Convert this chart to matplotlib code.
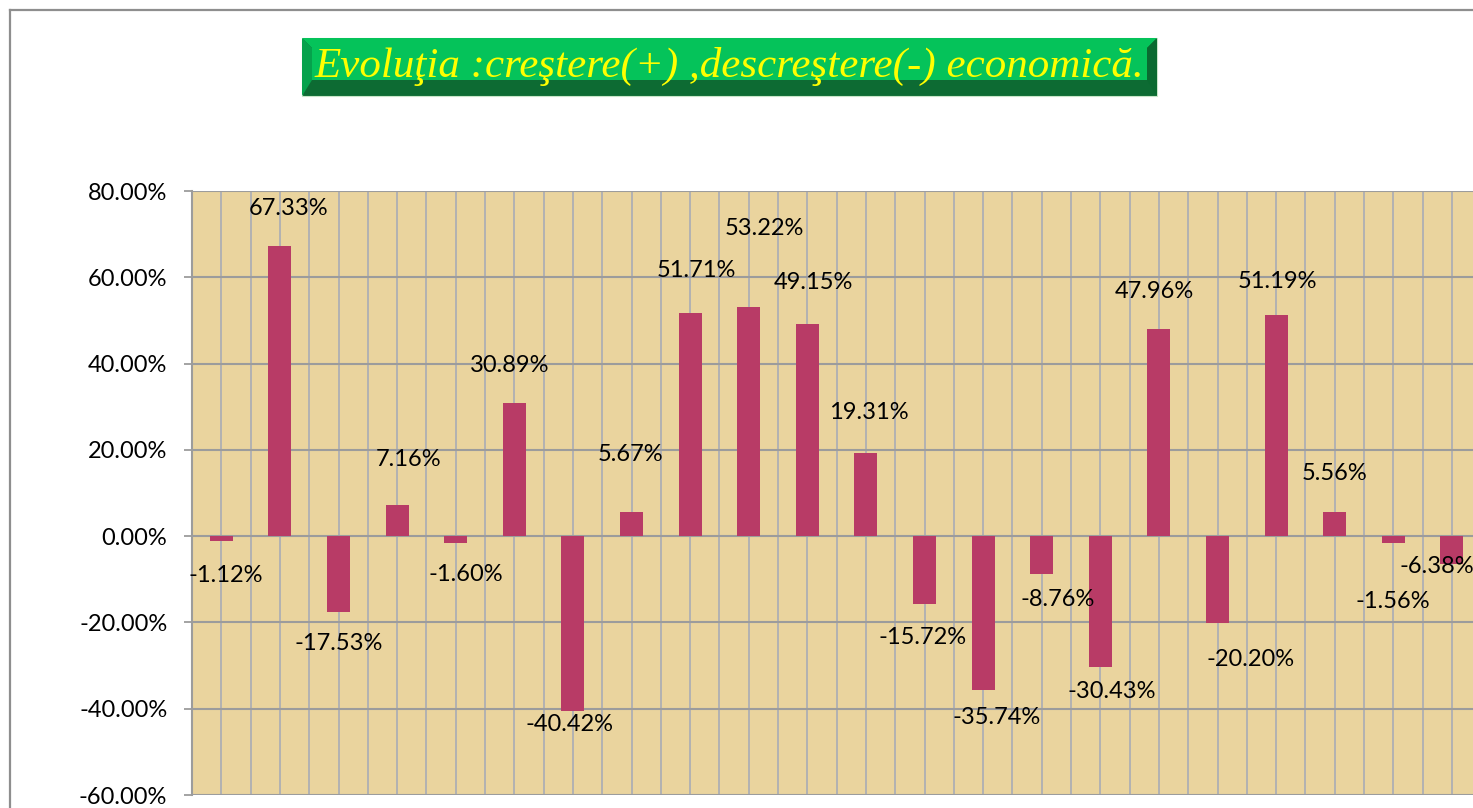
import matplotlib
matplotlib.use("Agg")
import matplotlib.pyplot as plt
from matplotlib.patches import Polygon
from matplotlib.lines import Line2D
import numpy as np

# ---- data ----
values = [-1.12, 67.33, -17.53, 7.16, -1.60, 30.89, -40.42, 5.67, 51.71, 53.22,
          49.15, 19.31, -15.72, -35.74, -8.76, -30.43, 47.96, -20.20, 51.19, 5.56,
          -1.56, -6.38]
labels = [f"{v:.2f}%" for v in values]
y_ticks = [-60, -40, -20, 0, 20, 40, 60, 80]
y_tick_labels = [f"{t:.2f}%" for t in y_ticks]
title = "Evoluţia :creştere(+) ,descreştere(-) economică."

# ---- label offsets (pixels, relative to bar end) ----
label_dx = [4, 9, 0, 11, 10, -5, -3, -1, 6, 16, 6, 3, -2, 14, 16, 11, -5, 33, 1, 0, 0, -15]
label_dy = [-35, 37, -32, 46, -31, 37, -14, 57, 43, 78, 42, 40, -34, -27, -26, -24, 38, -36, 34, 39, -59, -3]

W, H = 1473, 808
DPI = 100
fig = plt.figure(figsize=(W / DPI, H / DPI), dpi=DPI)
fig.patch.set_facecolor("white")

FONT = ["Lato", "DejaVu Sans"]

def fx(px):
    return px / W

def fy(py):
    return 1 - py / H

# axes area: left 192, top 191, bottom 795, right at figure edge
ax_left, ax_top, ax_bottom = 192, 191, 795
ax = fig.add_axes([fx(ax_left), fy(ax_bottom), 1 - fx(ax_left), (ax_bottom - ax_top) / H])
ax.set_facecolor("#EAD49E")

cat_px = 58.6
x = np.arange(len(values))
ax.set_xlim(-0.5, -0.5 + (W - ax_left) / cat_px)
ax.set_ylim(-60, 80)

# gridlines
for g in np.arange(-0.5, len(values) + 0.5, 0.5):
    ax.axvline(g, color="#B2B2B2", lw=1.4, zorder=1)
for t in y_ticks:
    ax.axhline(t, color="#9C9C9C", lw=1.5, zorder=1.5)

ax.bar(x, values, width=0.39, color="#B83B66", zorder=3)

for i, (v, lab) in enumerate(zip(values, labels)):
    ax.annotate(lab, xy=(i, v), xytext=(label_dx[i], label_dy[i]),
                textcoords="offset pixels", ha="center", va="center",
                fontsize=17, family=FONT, color="black", zorder=4)

ax.set_yticks(y_ticks)
ax.set_yticklabels(y_tick_labels, family=FONT, fontsize=17)
ax.tick_params(axis="y", length=5.8, width=1.3, color="#9C9C9C", pad=12)
ax.set_xticks([])
for s in ["top", "right", "bottom"]:
    ax.spines[s].set_visible(False)
ax.spines["left"].set_color("#9C9C9C")
ax.spines["left"].set_linewidth(1.5)

# outer chart border (top and left)
fig.add_artist(Line2D([fx(10), 1.0], [fy(10), fy(10)], color="#8E8E8E", lw=1.6))
fig.add_artist(Line2D([fx(10), fx(10)], [fy(10), 0], color="#8E8E8E", lw=1.6))

# title box
bx0, bx1, by0, by1 = 302, 1157, 38, 96
split = 80
bev = 10
fig.add_artist(Polygon([(fx(bx0), fy(by0)), (fx(bx1), fy(by0)), (fx(bx1), fy(by1)), (fx(bx0), fy(by1))],
                       closed=True, facecolor="#0D6B33", edgecolor="#C8E6C8", lw=0.8))
fig.add_artist(Polygon([(fx(bx0), fy(by0)), (fx(bx1), fy(by0)), (fx(bx1 - bev), fy(by0 + bev)),
                        (fx(bx1 - bev), fy(split)), (fx(bx0 + bev), fy(split)), (fx(bx0 + bev), fy(by0 + bev))],
                       closed=True, facecolor="#05C35A", edgecolor="none"))
fig.add_artist(Polygon([(fx(bx0), fy(by0)), (fx(bx0 + bev), fy(by0 + bev)), (fx(bx0 + bev), fy(split)),
                        (fx(bx0), fy(by1))],
                       closed=True, facecolor="#05A24C", edgecolor="none"))
fig.add_artist(Polygon([(fx(bx1), fy(by0)), (fx(bx1 - bev), fy(by0 + bev)), (fx(bx1 - bev), fy(split)),
                        (fx(bx1), fy(by1))],
                       closed=True, facecolor="#0A6A30", edgecolor="none"))
fig.text(fx((bx0 + bx1) / 2), fy(66), title, ha="center", va="center",
         fontsize=31, style="italic", color="#FFFF00",
         family=["Liberation Serif", "DejaVu Serif"])

fig.savefig("out.png", dpi=DPI, facecolor="white")
